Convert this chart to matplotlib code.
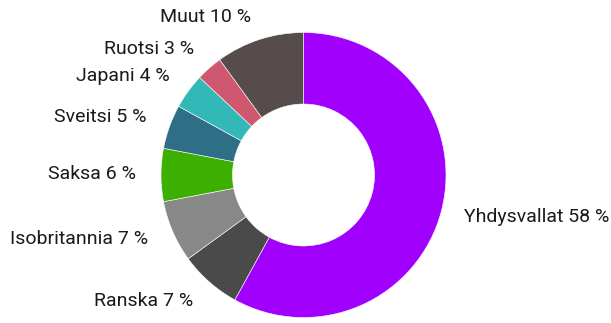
import matplotlib.pyplot as plt

# share of each country, percent
countries = ['Yhdysvallat', 'Ranska', 'Isobritannia', 'Saksa', 'Sveitsi',
             'Japani', 'Ruotsi', 'Muut']
shares = [58, 7, 7, 6, 5, 4, 3, 10]
colors = ['#a100ff', '#4a4a4a', '#888888', '#3caf00', '#2e6e87',
          '#33b8b8', '#d0586e', '#574c4c']

# label anchor points in pixels (x, y from top) and alignment
label_pos = [(464, 217, 'left'), (193, 301, 'right'), (148, 239, 'right'),
             (136, 174, 'right'), (147, 117, 'right'), (170, 76, 'right'),
             (194, 49, 'right'), (251, 17, 'right')]

W, H = 611, 323
fig = plt.figure(figsize=(W / 100, H / 100), dpi=100)
ax = fig.add_axes([0, 0, 1, 1])

ax.pie(shares, colors=colors, startangle=90, counterclock=False,
       center=(303.5, H - 175), radius=142.5,
       wedgeprops=dict(width=71.5, edgecolor='white', linewidth=0.4),
       frame=True)
ax.set_xlim(0, W)
ax.set_ylim(0, H)
ax.set_aspect('equal')
ax.axis('off')

for name, val, (x, y, ha) in zip(countries, shares, label_pos):
    ax.text(x, H - y, f'{name} {val} %', ha=ha, va='center', fontsize=14,
            color='#1a1a1a', family=['Roboto', 'DejaVu Sans'])

fig.savefig('out.png', dpi=100)
